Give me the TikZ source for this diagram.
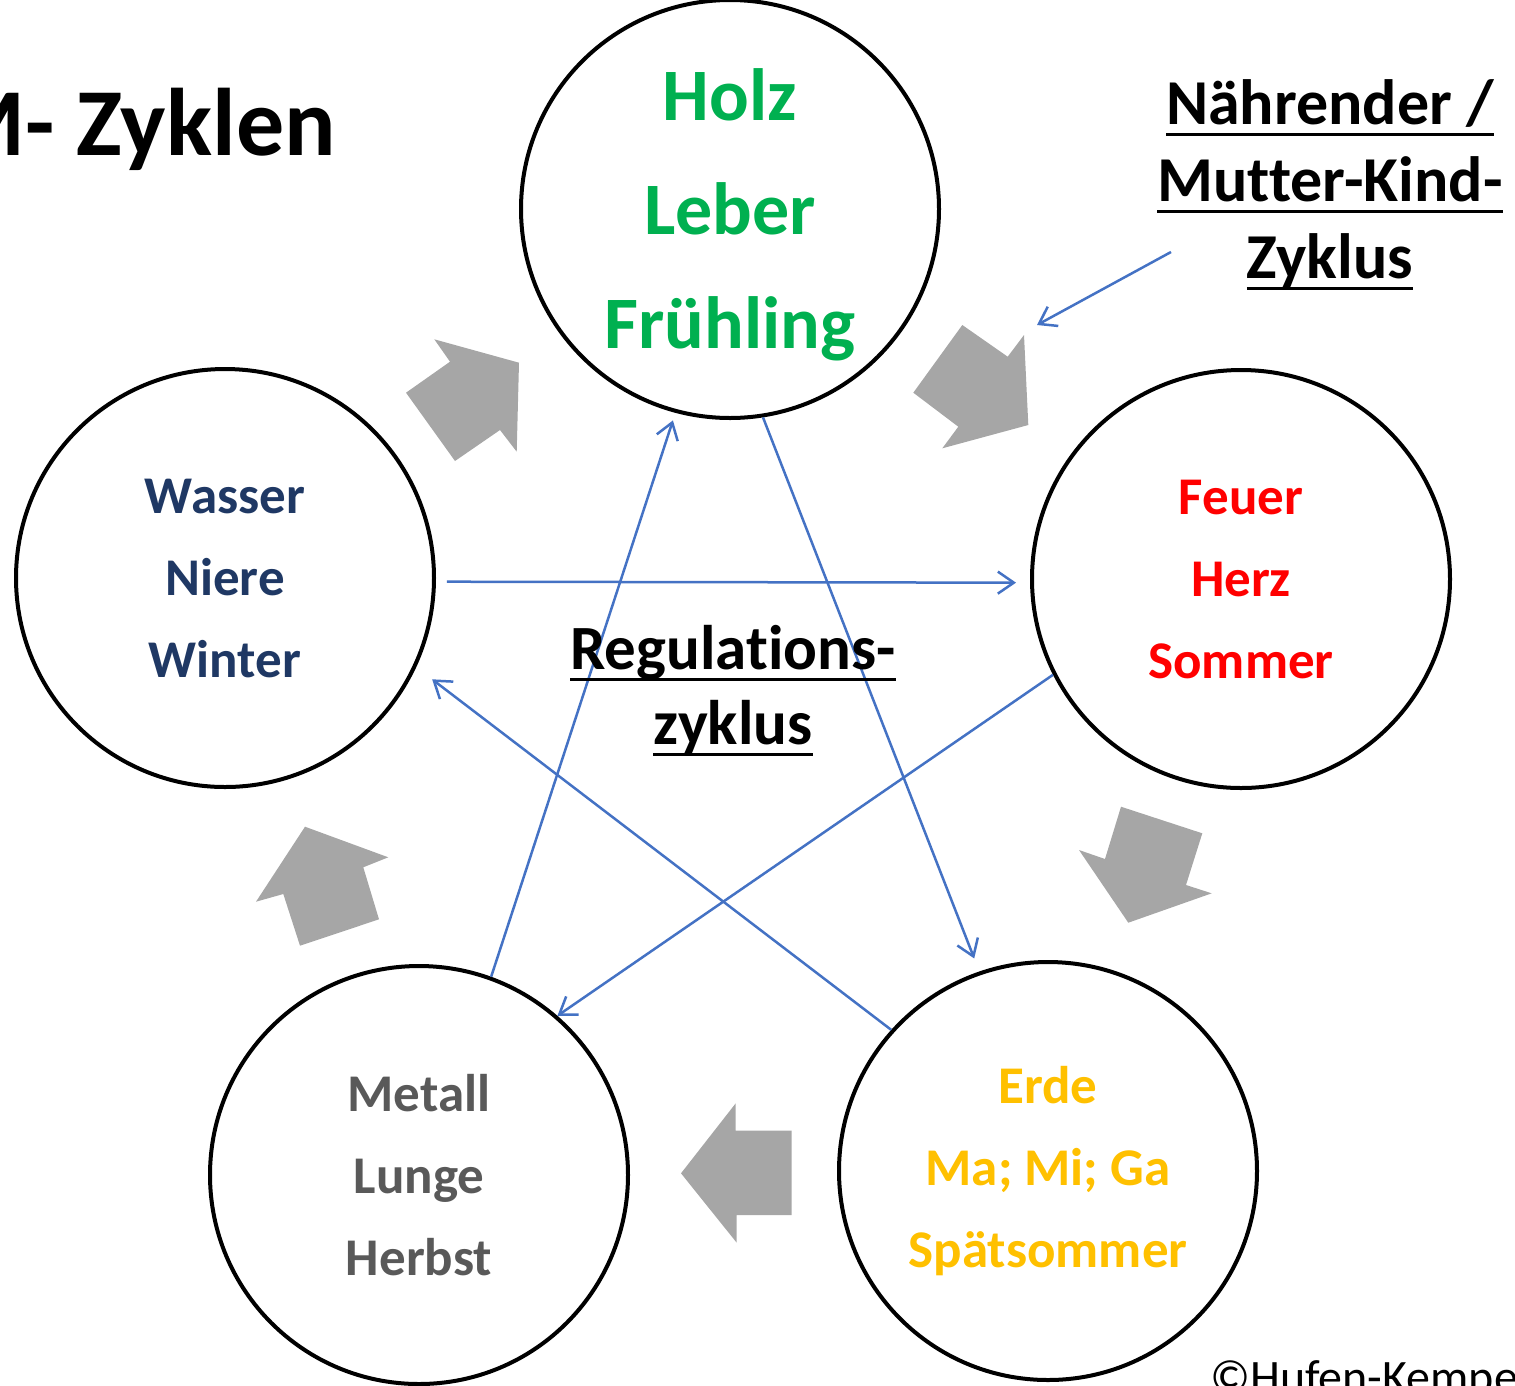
\documentclass[tikz,border=0pt]{standalone}
\usepackage{fontspec}
\setmainfont[Ligatures=NoCommon]{Carlito}
\newcommand{\uln}[1]{\leavevmode\setbox0=\hbox{#1}\rlap{\rule[-12pt]{\wd0}{3pt}}\box0}
\usetikzlibrary{arrows.meta}
\definecolor{holzc}{HTML}{00B050}
\definecolor{feuerc}{HTML}{FF0000}
\definecolor{erdec}{HTML}{FFC000}
\definecolor{metallc}{HTML}{595959}
\definecolor{wasserc}{HTML}{1F3864}
\definecolor{linec}{HTML}{4472C4}
\definecolor{blockc}{HTML}{A6A6A6}
\begin{document}
\begin{tikzpicture}[x=1pt,y=-1pt,
  circ/.style={circle, draw=black, line width=4pt, minimum size=418pt, inner sep=0pt, align=center},
  small/.style={font=\bfseries\fontsize{53}{82}\selectfont},
  big/.style={font=\bfseries\fontsize{74}{114}\selectfont},
  reg/.style={draw=linec, line width=2.5pt, -{Straight Barb[length=16pt,width=22pt]}},
  block/.style={fill=blockc, draw=none},
  lbl/.style={align=center, inner sep=0pt}
]
\useasboundingbox (0,0) rectangle (1515,1385);

% title
\node[anchor=base east, inner sep=0pt, font=\bfseries\fontsize{96}{96}\selectfont] (title) at (336,155) {M- Zyklen};

% circles
\node[circ, big, text=holzc] (holz) at (730,209) {\rule{0pt}{64pt}Holz\\Leber\\Frühling};
\node[circ, small, text=feuerc] (feuer) at (1241,579) {Feuer\\Herz\\Sommer};
\node[circ, small, text=erdec] (erde) at (1048,1171) {Erde\\Ma; Mi; Ga\\Spätsommer};
\node[circ, small, text=metallc] (metall) at (419,1175) {Metall\\Lunge\\Herbst};
\node[circ, small, text=wasserc] (wasser) at (225,578) {Wasser\\Niere\\Winter};

% gray block arrows (nourishing cycle)
\fill[block] (962.3,325) -- (1007.7,356.7) -- (1024,335) -- (1028.3,425) -- (942.3,448.3) -- (958.3,426.7) -- (913.3,392.7) -- cycle;
\fill[block] (1121,806.7) -- (1202.3,833.3) -- (1186,885) -- (1211.7,893.3) -- (1128.3,922.7) -- (1079,850) -- (1105,859) -- cycle;
\fill[block] (791.7,1130.7) -- (791.7,1215) -- (736.7,1215) -- (736.7,1242.7) -- (681,1173.3) -- (735.7,1103.3) -- (735.7,1130.7) -- cycle;
\fill[block] (305,826.7) -- (388.3,857.3) -- (363.3,867.3) -- (379,919.3) -- (300,945.7) -- (283.3,894) -- (256,901.7) -- cycle;
\fill[block] (434.3,339.3) -- (519,362.7) -- (516.7,451.7) -- (500,430) -- (455,461) -- (406,392.7) -- (450,361.7) -- cycle;

% regulation cycle
\draw[reg, shorten >=14pt] (holz.-81) -- (erde.109);
\draw[reg] (feuer.207) -- (metall.49);
\draw[reg, shorten >=20pt] (erde.138) -- (wasser.-25);
\draw[reg, shorten >=8pt] (metall.70) -- (holz.255);
\draw[reg, shorten <=11pt, shorten >=14pt] (wasser.-1.4) -- (feuer.181.1);

% labels
\node[lbl, anchor=base, font=\bfseries\fontsize{64}{77}\selectfont] (naehr) at (1330,278) {\uln{Nährender /}\\\uln{Mutter-Kind-}\\\uln{Zyklus}};
\node[lbl, anchor=base, font=\bfseries\fontsize{63}{75}\selectfont] (regul) at (733,744) {\uln{Regulations-}\\\uln{zyklus}};

\coordinate (lblstart) at (1171,252);
\coordinate (lblend) at (1037,325);
\draw[reg] (lblstart) -- (lblend);

\node[anchor=base west, inner sep=0pt, font=\fontsize{48}{48}\selectfont] (copy) at (1210,1393) {©Hufen-Kempe};
\end{tikzpicture}
\end{document}
